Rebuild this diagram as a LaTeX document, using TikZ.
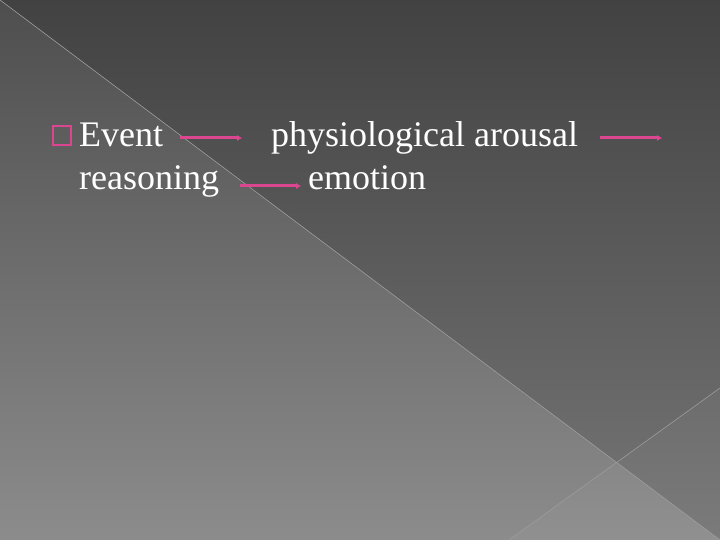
\documentclass[tikz,border=0pt]{standalone}
\usepackage{fontspec}
\setmainfont{Liberation Serif}
\usetikzlibrary{arrows.meta}
\definecolor{pinkarr}{HTML}{DC4590}
\definecolor{bgtop}{HTML}{424242}
\definecolor{bgbot}{HTML}{767676}
\definecolor{tritop}{HTML}{4E4E4E}
\definecolor{tribot}{HTML}{8C8C8C}
\definecolor{diagline}{HTML}{9C9C9C}
\tikzset{
  txt/.style={text=white, font=\fontsize{36}{43}\selectfont, inner sep=0pt, anchor=base west},
  arr/.style={draw=pinkarr, line width=3pt, -{Latex[length=5pt,width=6.5pt]}},
  bulletbox/.style={draw=pinkarr, line width=2.2pt, minimum width=18pt, minimum height=19pt, inner sep=0pt},
  diag/.style={draw=diagline, line width=0.6pt}
}
\begin{document}
\begin{tikzpicture}[x=1pt,y=1pt]
\useasboundingbox (0,0) rectangle (720,540);
% background
\shade[top color=bgtop, bottom color=bgbot] (0,0) rectangle (720,540);
\shade[top color=tritop, bottom color=tribot] (0,540) -- (720,0) -- (0,0) -- cycle;
\fill[white, opacity=0.04] (509,0) -- (720,152) -- (720,0) -- cycle;
\draw[diag] (0,540) -- (720,0);
\draw[diag] (509,0) -- (720,152);
% bullet
\node[bulletbox] (bul) at (62,404.5) {};
% texts
\node[txt] (ev) at (79,393) {Event};
\node[txt] (ph) at (271,393) {physiological arousal};
\node[txt] (re) at (79,350) {reasoning};
\node[txt] (em) at (308,350) {emotion};
\coordinate (end3) at (662,402);
% arrows
\draw[arr] ([shift={(17pt,9pt)}]ev.base east) -- ([shift={(-29pt,9pt)}]ph.base west);
\draw[arr] ([shift={(22pt,9pt)}]ph.base east) -- (end3);
\draw[arr] ([shift={(21pt,4pt)}]re.base east) -- ([shift={(-7pt,4pt)}]em.base west);
\end{tikzpicture}
\end{document}
